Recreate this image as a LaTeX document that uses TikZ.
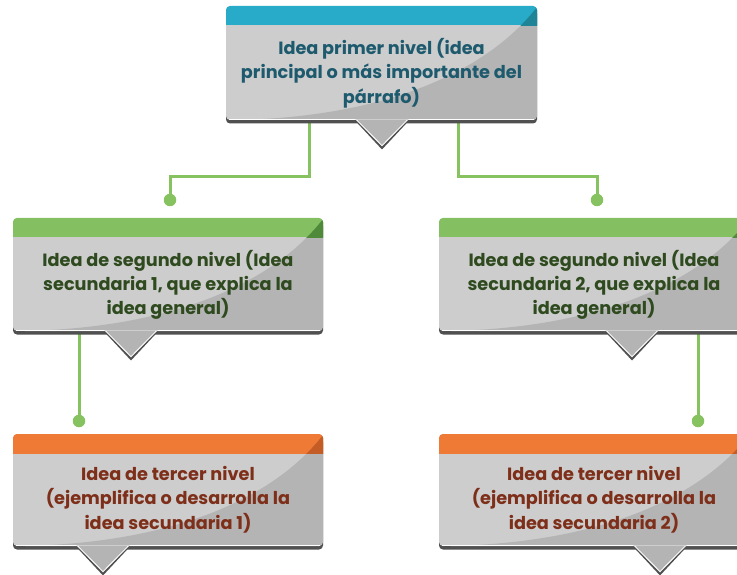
\documentclass[tikz,border=0pt]{standalone}
\usepackage{fontspec}
\setmainfont{Poppins}
\definecolor{bandblue}{HTML}{27ABC9}
\definecolor{darkblue}{HTML}{1F8496}
\definecolor{bandgreen}{HTML}{84C061}
\definecolor{darkgreen}{HTML}{4E8A3A}
\definecolor{bandorange}{HTML}{EE7A36}
\definecolor{darkorange}{HTML}{C45C26}
\definecolor{txtblue}{HTML}{1E5A6E}
\definecolor{txtgreen}{HTML}{2E4A1E}
\definecolor{txtbrown}{HTML}{7E2F1A}
\definecolor{bodylight}{HTML}{CDCDCD}
\definecolor{bodydark}{HTML}{B4B4B4}
\definecolor{shadowgray}{HTML}{505050}
\definecolor{linegreen}{HTML}{86C25F}
\pgfdeclarelayer{bg}
\pgfsetlayers{bg,main}
\tikzset{
  conn/.style={draw=linegreen, line width=3pt},
  dot/.style={circle, fill=linegreen, inner sep=0pt, minimum size=12.5pt},
  txt/.style={align=center, inner sep=0pt, minimum width=310pt, minimum height=93pt,
    font=\bfseries\fontsize{17.7}{24.3}\selectfont},
}
% #1 x0, #2 top, #3 x1, #4 body bottom, #5 tip x, #6 band colour, #7 dark band colour
\newcommand\ideabox[7]{%
  \pgfmathsetmacro\yband{#2+19.5}%
  \pgfmathsetmacro\wid{#3-#1}%
  \def\sheen{(#1+12,#4) .. controls (#1+0.6*\wid,#4-4) and (#3-35,\yband+30) .. (#3+3,#2-3) -- (#3+10,#2-10) -- (#3+10,#4+10) -- (#1+12,#4+10) -- cycle}%
  \fill[shadowgray, rounded corners=4] (#1,#2+4) rectangle (#3,#4+3.5);
  \fill[shadowgray] (#5-27.5,#4) -- (#5,#4+29.5) -- (#5+27.5,#4) -- cycle;
  \begin{scope}
    \clip[rounded corners=4] (#1,#2) rectangle (#3,#4);
    \fill[bodylight] (#1,#2) rectangle (#3,#4);
    \fill[bodydark] \sheen;
    \begin{scope}
      \clip (#1-5,#2-5) rectangle (#3+5,\yband);
      \fill[#6] (#1-5,#2-5) rectangle (#3+5,\yband);
      \fill[#7] \sheen;
    \end{scope}
  \end{scope}
  \draw[white, line width=0.8pt] (#1+3,#4-0.6) -- (#3-3,#4-0.6);
  \fill[bodydark] (#5-26.5,#4-0.6) -- (#5,#4+26.5) -- (#5+26.5,#4-0.6) -- cycle;
  \draw[white, line width=0.8pt] (#5-25.5,#4-0.2) -- (#5,#4+25.6) -- (#5+25.5,#4-0.2);
}
\begin{document}
\begin{tikzpicture}[x=1pt, y=-1pt]
\useasboundingbox (0,0) rectangle (737,575);
\clip (0,0) rectangle (737,575);
% boxes
\ideabox{226}{6}{537}{120}{382}{bandblue}{darkblue}
\ideabox{13}{218}{323}{331}{131}{bandgreen}{darkgreen}
\ideabox{439}{218}{749}{331}{632}{bandgreen}{darkgreen}
\ideabox{13}{434}{323}{546}{103}{bandorange}{darkorange}
\ideabox{439}{434}{749}{546}{660}{bandorange}{darkorange}
% texts
\node[txt, text=txtblue, minimum width=311pt, minimum height=94pt] (top) at (381.5,73)
  {Idea primer nivel (idea\\principal o más importante del\\párrafo)};
\node[txt, text=txtgreen] (l2a) at (168,285)
  {Idea de segundo nivel (Idea\\secundaria 1, que explica la\\idea general)};
\node[txt, text=txtgreen] (l2b) at (594,285)
  {Idea de segundo nivel (Idea\\secundaria 2, que explica la\\idea general)};
\node[txt, text=txtbrown] (l3a) at (168,499.5)
  {Idea de tercer nivel\\(ejemplifica o desarrolla la\\idea secundaria 1)};
\node[txt, text=txtbrown] (l3b) at (594,499.5)
  {Idea de tercer nivel\\(ejemplifica o desarrolla la\\idea secundaria 2)};
% dots
\node[dot] (d1) at (170,200) {};
\node[dot] (d2) at (597,200) {};
\node[dot] (d3) at (79,421) {};
\node[dot] (d4) at (698,421) {};
\coordinate (k1) at (170,177);
\coordinate (k2) at (597,177);
% connectors
\begin{pgfonlayer}{bg}
\draw[conn] ([xshift=-72.5pt]top.south) |- (k1) -- (d1);
\draw[conn] ([xshift=76.5pt]top.south) |- (k2) -- (d2);
\draw[conn] (l2a.south -| d3) -- (d3);
\draw[conn] (l2b.south -| d4) -- (d4);
\end{pgfonlayer}
\end{tikzpicture}
\end{document}
